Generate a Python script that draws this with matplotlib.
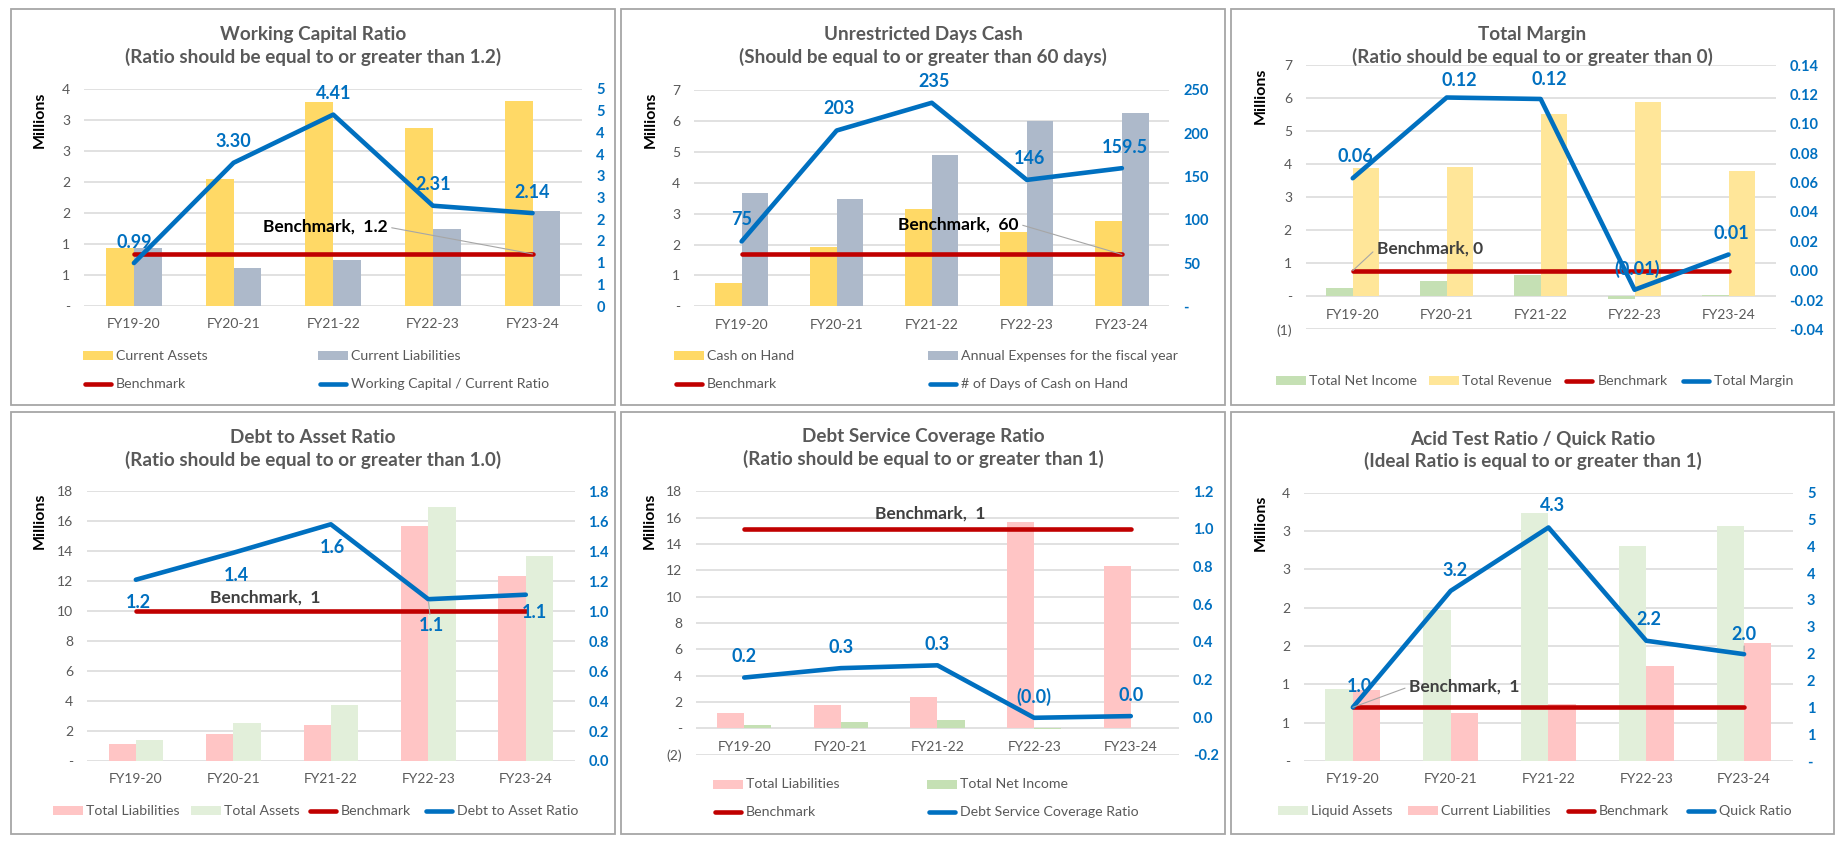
import math
import matplotlib
matplotlib.use('Agg')
import matplotlib.pyplot as plt
from matplotlib.patches import Rectangle
from matplotlib.lines import Line2D

plt.rcParams['font.family'] = ['Lato', 'DejaVu Sans']

W, H = 1844, 842

# ---------------- data ----------------
years = ['FY19-20', 'FY20-21', 'FY21-22', 'FY22-23', 'FY23-24']

# working capital (millions)
current_assets = [0.93, 2.05, 3.29, 2.87, 3.31]
current_liabilities = [0.93, 0.62, 0.74, 1.24, 1.54]
wc_ratio = [0.99, 3.30, 4.41, 2.31, 2.14]
wc_bench = 1.2

# unrestricted days cash
cash_on_hand = [0.74, 1.92, 3.14, 2.39, 2.75]
annual_expenses = [3.65, 3.46, 4.90, 5.99, 6.26]
days_cash = [75, 203, 235, 146, 159.5]
days_bench = 60

# total margin
total_net_income = [0.25, 0.46, 0.65, -0.08, 0.04]
total_revenue = [3.89, 3.92, 5.53, 5.89, 3.80]
total_margin = [0.063, 0.118, 0.117, -0.013, 0.011]
margin_bench = 0

# debt to asset
total_liabilities = [1.16, 1.81, 2.38, 15.68, 12.35]
total_assets = [1.41, 2.52, 3.73, 16.96, 13.67]
debt_asset = [1.21, 1.39, 1.58, 1.08, 1.11]
debt_bench = 1

# debt service coverage
dscr = [0.21, 0.26, 0.275, -0.004, 0.005]
dscr_bench = 1

# quick ratio
liquid_assets = [0.935, 1.97, 3.24, 2.80, 3.06]
quick_ratio = [1.0, 3.17, 4.35, 2.24, 1.99]
quick_bench = 1

# ---------------- colours ----------------
BLUE = '#0070C0'
RED = '#C00000'
GOLD = '#FFD966'
GOLD_LT = '#FFE699'
GREYBLUE = '#ADB9CA'
PINK = '#FFC5C5'
GREEN = '#C5E0B4'
GREEN_LT = '#E2EFDA'
TXT = '#595959'

fig = plt.figure(figsize=(W / 100, H / 100), dpi=100)
fig.patch.set_facecolor('white')


def half_up(v):
    return int(math.floor(abs(v) + 0.5 + 1e-9))


def acct(v):
    r = half_up(v)
    if r == 0:
        return '-'
    return '(%d)' % r if v < 0 else str(r)


def int_zero(v):
    return str(half_up(v))


def dec(n):
    def f(v):
        if abs(v) < 1e-9:
            v = 0.0
        return ('%.' + str(n) + 'f') % v
    return f


def acct_dec(n):
    def f(v):
        s = ('%.' + str(n) + 'f') % abs(v)
        return '(' + s + ')' if v < 0 else s
    return f


def fx(box, f):
    return (box[0] + f * (box[2] - box[0])) / W


def fy(box, f):
    return 1 - (box[1] + f * (box[3] - box[1])) / H


def tick_list(lo, hi, step):
    n = int(round((hi - lo) / step))
    return [lo + i * step for i in range(n + 1)]


def draw_panel(box, pos, title, bars, line, bench, lticks, rticks, lfmt, rfmt,
               lab_fmt, offsets, btext, bxy, bcolor, bleader, legend, mill,
               zero_axis=False, leaders=()):
    # border
    fig.add_artist(Rectangle((box[0] / W, 1 - box[3] / H), (box[2] - box[0]) / W,
                             (box[3] - box[1]) / H, transform=fig.transFigure,
                             fill=False, ec='#A6A6A6', lw=1.3))
    x0, x1, y0, y1 = pos
    ax = fig.add_axes([fx(box, x0), fy(box, y1), fx(box, x1) - fx(box, x0),
                       fy(box, y0) - fy(box, y1)])
    ax2 = ax.twinx()
    x = list(range(len(years)))

    (v1, c1), (v2, c2) = bars
    ax.bar([i - 0.14 for i in x], v1, 0.28, color=c1, zorder=2)
    ax.bar([i + 0.14 for i in x], v2, 0.28, color=c2, zorder=2)

    lt = tick_list(*lticks)
    ax.set_ylim(lt[0], lt[-1])
    ax.set_yticks(lt, [lfmt(t) for t in lt])
    ax.yaxis.grid(True, color='#D9D9D9', lw=1.1, zorder=0)
    ax.set_axisbelow(True)
    ax.set_xlim(-0.5, len(years) - 0.5)
    ax.set_xticks(x, years)
    ax.tick_params(axis='y', length=0, pad=10, labelsize=10, labelcolor=TXT)
    ax.tick_params(axis='x', length=0, pad=9, labelsize=10, labelcolor=TXT)
    for s in ax.spines.values():
        s.set_visible(False)
    if zero_axis:
        ax.spines['bottom'].set_position(('data', 0))

    rt = tick_list(*rticks)
    ax2.set_ylim(rt[0], rt[-1])
    ax2.set_yticks(rt, [rfmt(t) for t in rt], fontweight='bold')
    ax2.tick_params(axis='y', length=0, pad=10, labelsize=10.5, labelcolor=BLUE)
    for s in ax2.spines.values():
        s.set_visible(False)

    ax2.plot(x, [bench] * len(x), color=RED, lw=3.3, solid_capstyle='round', zorder=3)
    ax2.plot(x, line, color=BLUE, lw=3.3, solid_capstyle='round',
             solid_joinstyle='round', zorder=4)
    for i, v in enumerate(line):
        dx, dy = offsets[i]
        kw = {}
        if i in leaders:
            kw['arrowprops'] = dict(arrowstyle='-', color='#A6A6A6', lw=0.8,
                                    shrinkA=0, shrinkB=2)
        ax2.annotate(lab_fmt(v), (i, v), xytext=(dx, dy), textcoords='offset points',
                     ha='center', va='center', color=BLUE, fontweight='bold',
                     fontsize=13, zorder=5, **kw)

    kw = {}
    if bleader is not None:
        kw['arrowprops'] = dict(arrowstyle='-', color='#A6A6A6', lw=0.8,
                                relpos=bleader[1], shrinkA=1, shrinkB=0)
        target = bleader[0]
    else:
        target = bxy
    ax2.annotate(btext, target, xytext=bxy, textcoords='data', ha='center',
                 va='center', fontweight='bold', fontsize=12.5, color=bcolor,
                 zorder=5, **kw)

    # titles / axis caption
    fig.text(fx(box, 0.5), fy(box, title[1]), title[0], ha='center', va='center',
             fontsize=13.6, fontweight='bold', color=TXT, linespacing=1.3)
    fig.text(fx(box, mill[0]), fy(box, mill[1]), 'Millions', rotation=90,
             ha='center', va='center', fontsize=11.5, fontweight='bold', color='black')

    # legend
    for kind, color, label, lx, ly in legend:
        px, py = fx(box, lx), fy(box, ly)
        if kind == 'bar':
            fig.add_artist(Rectangle((px, py - 4.5 / H), 30 / W, 9 / H,
                                     transform=fig.transFigure, color=color, lw=0))
        else:
            fig.add_artist(Line2D([px + 2 / W, px + 28 / W], [py, py],
                                  transform=fig.transFigure, color=color, lw=3.3,
                                  solid_capstyle='round'))
        fig.text(px + 33 / W, py, label, ha='left', va='center', fontsize=10.2, color=TXT)


B1 = (11, 9, 615, 405)
B2 = (621, 9, 1225, 405)
B3 = (1231, 9, 1834, 405)
B4 = (11, 412, 615, 834)
B5 = (621, 412, 1225, 834)
B6 = (1231, 412, 1834, 834)

# Working Capital Ratio
draw_panel(B1, (0.121, 0.946, 0.202, 0.750),
           ('Working Capital Ratio\n(Ratio should be equal to or greater than 1.2)', 0.094),
           [(current_assets, GOLD), (current_liabilities, GREYBLUE)],
           wc_ratio, wc_bench, (0, 3.5, 0.5), (0, 5, 0.5), acct, int_zero, dec(2),
           [(0, 15)] * 5, 'Benchmark,  1.2', (1.92, 1.82), 'black',
           ((4, wc_bench), (1, 0.5)),
           [('bar', GOLD, 'Current Assets', 0.119, 0.876),
            ('bar', GREYBLUE, 'Current Liabilities', 0.509, 0.876),
            ('line', RED, 'Benchmark', 0.119, 0.947),
            ('line', BLUE, 'Working Capital / Current Ratio', 0.509, 0.947)],
           (0.047, 0.28))

# Unrestricted Days Cash
draw_panel(B2, (0.121, 0.908, 0.204, 0.751),
           ('Unrestricted Days Cash\n(Should be equal to or greater than 60 days)', 0.094),
           [(cash_on_hand, GOLD), (annual_expenses, GREYBLUE)],
           days_cash, days_bench, (0, 7, 1), (0, 250, 50), acct, acct, lambda v: '%g' % v,
           [(0, 15.5), (2, 15.5), (2, 15.5), (2, 15.5), (2, 15)],
           'Benchmark,  60', (2.28, 95), 'black', ((4, days_bench), (1, 0.5)),
           [('bar', GOLD, 'Cash on Hand', 0.088, 0.876),
            ('bar', GREYBLUE, 'Annual Expenses for the fiscal year', 0.508, 0.876),
            ('line', RED, 'Benchmark', 0.088, 0.948),
            ('line', BLUE, '# of Days of Cash on Hand', 0.508, 0.948)],
           (0.049, 0.28))

# Total Margin
draw_panel(B3, (0.124, 0.903, 0.142, 0.809),
           ('Total Margin\n(Ratio should be equal to or greater than 0)', 0.094),
           [(total_net_income, GREEN), (total_revenue, GOLD_LT)],
           total_margin, margin_bench, (-1, 7, 1), (-0.04, 0.14, 0.02), acct, dec(2),
           acct_dec(2),
           [(2, 15.5), (9, 12), (6, 14), (2, 15), (2, 15)],
           'Benchmark, 0', (0.82, 0.0152), '#404040', ((0, margin_bench), (0, 0.5)),
           [('bar', GREEN, 'Total Net Income', 0.074, 0.939),
            ('bar', GOLD_LT, 'Total Revenue', 0.329, 0.939),
            ('line', RED, 'Benchmark', 0.553, 0.939),
            ('line', BLUE, 'Total Margin', 0.747, 0.939)],
           (0.05, 0.219), zero_axis=True)

# Debt to Asset Ratio
draw_panel(B4, (0.126, 0.933, 0.188, 0.827),
           ('Debt to Asset Ratio\n(Ratio should be equal to or greater than 1.0)', 0.087),
           [(total_liabilities, PINK), (total_assets, GREEN_LT)],
           debt_asset, debt_bench, (0, 18, 2), (0, 1.8, 0.2), acct, dec(1), dec(1),
           [(2, -16.5), (2, -16.5), (1, -17), (2, -19), (6, -13)],
           'Benchmark,  1', (1.33, 1.093), '#404040', None,
           [('bar', PINK, 'Total Liabilities', 0.070, 0.945),
            ('bar', GREEN_LT, 'Total Assets', 0.298, 0.945),
            ('line', RED, 'Benchmark', 0.492, 0.945),
            ('line', BLUE, 'Debt to Asset Ratio', 0.684, 0.945)],
           (0.047, 0.259), leaders=(3,))

# Debt Service Coverage Ratio
draw_panel(B5, (0.124, 0.924, 0.188, 0.812),
           ('Debt Service Coverage Ratio\n(Ratio should be equal to or greater than 1)', 0.086),
           [(total_liabilities, PINK), (total_net_income, GREEN)],
           dscr, dscr_bench, (-2, 18, 2), (-0.2, 1.2, 0.2), acct, dec(1), acct_dec(1),
           [(0, 15)] * 5,
           'Benchmark,  1', (1.93, 1.08), '#404040', None,
           [('bar', PINK, 'Total Liabilities', 0.152, 0.882),
            ('bar', GREEN, 'Total Net Income', 0.507, 0.882),
            ('line', RED, 'Benchmark', 0.152, 0.949),
            ('line', BLUE, 'Debt Service Coverage Ratio', 0.507, 0.949)],
           (0.048, 0.259), zero_axis=True)

# Acid Test Ratio / Quick Ratio
draw_panel(B6, (0.121, 0.932, 0.191, 0.827),
           ('Acid Test Ratio / Quick Ratio\n(Ideal Ratio is equal to or greater than 1)', 0.091),
           [(liquid_assets, GREEN_LT), (current_liabilities, PINK)],
           quick_ratio, quick_bench, (0, 3.5, 0.5), (0, 5, 0.5), acct, acct, dec(1),
           [(5, 15), (3, 15), (3, 15.5), (2, 15), (0, 14)],
           'Benchmark,  1', (1.14, 1.385), '#404040', ((0, quick_bench), (0, 0.5)),
           [('bar', GREEN_LT, 'Liquid Assets', 0.078, 0.945),
            ('bar', PINK, 'Current Liabilities', 0.294, 0.945),
            ('line', RED, 'Benchmark', 0.555, 0.945),
            ('line', BLUE, 'Quick Ratio', 0.755, 0.945)],
           (0.049, 0.263), leaders=(4,))

fig.savefig('out.png', dpi=100, facecolor='white')
